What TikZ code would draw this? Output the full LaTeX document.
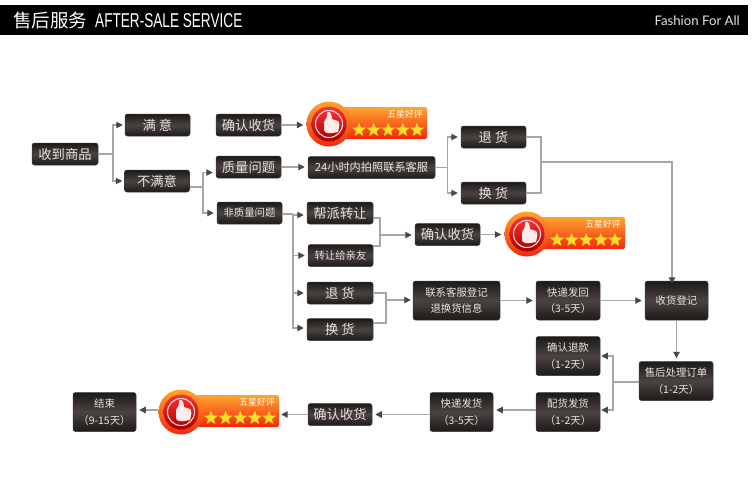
\documentclass[tikz,border=0pt]{standalone}
\usepackage{fontspec}
\setmainfont{Liberation Sans}
\newfontfamily\cjk{Noto Sans CJK SC}
\newfontfamily\narrowlat[FakeStretch=0.68]{Liberation Sans}
\newfontfamily\tagfont{Lato}
\usetikzlibrary{arrows.meta,shapes.geometric,calc}
\definecolor{boxedge}{HTML}{1C1A19}
\definecolor{boxmid}{HTML}{4A4240}
\definecolor{boxtext}{HTML}{E9E4DF}
\definecolor{linegray}{HTML}{A6A6A6}
\definecolor{tipgray}{HTML}{484848}
\definecolor{badgetop}{HTML}{FFA52E}
\definecolor{badgemid}{HTML}{FF7A1E}
\definecolor{badgelow}{HTML}{F2280E}
\definecolor{stargold}{HTML}{FFDC26}
\tikzset{
  flowbox/.style={draw=boxedge!70!gray,line width=.5pt,rounded corners=2.5pt,inner sep=0pt,align=center,
    top color=boxedge,bottom color=boxedge,middle color=boxmid,text=boxtext,
    font=\cjk\fontsize{13.3}{17}\selectfont},
  smalltext/.style={font=\cjk\fontsize{10.4}{16.5}\selectfont},
  wire/.style={draw=linegray,line width=1.1pt},
  link/.style={wire,-{Triangle[length=6.5pt,width=6.5pt,color=tipgray]}},
  staricon/.style={star,star points=5,star point ratio=2.3,minimum size=14.5pt,inner sep=0pt,
    fill=stargold,draw=none}
}
% #1 node name, #2 x, #3 y, #4 width, #5 height, #6 options, #7 text
\newcommand{\flow}[7]{\node[flowbox,#6,minimum width=#4pt,minimum height=#5pt] (#1) at (#2,#3) {#7};}
% #1 name, #2 circle centre x, #3 y
\newcommand{\goodbadge}[3]{%
\begin{scope}[shift={(#2,#3)}]
  \node[rounded corners=2pt,minimum width=88pt,minimum height=32pt,inner sep=0pt,
    top color=badgetop,middle color=badgemid,bottom color=badgelow] (#1r) at (54,-1) {};
  \node[circle,minimum size=45pt,inner sep=0pt,
    top color=badgetop,bottom color=badgelow] (#1) at (0,0) {};
  \node[circle,minimum size=35pt,inner sep=0pt,draw=none,
    top color=red!80!white,bottom color=red!65!black] (#1c) at (0,0) {};
  \node[circle,minimum size=27pt,inner sep=0pt,draw=white!90!red,line width=1pt] (#1i) at (0,0) {};
  \fill[white!92!red] (-5,-2) .. controls (-3,-4) and (-2,-7) .. (-1.5,-12)
     .. controls (0.5,-13.5) and (3,-10) .. (3,-5) -- (9,-3) .. controls (11.5,-1) and (10,3) .. (9,8)
     -- (3,9) -- (-1,9) .. controls (-3,9) and (-5,8) .. (-5,6) -- cycle;
  \node[text=white!95!yellow,inner sep=0pt,font=\cjk\fontsize{8.8}{10}\selectfont] (#1t) at (76,-9.5) {五星好评};
  \node[staricon] (#1s1) at (30,6) {};
  \node[staricon] (#1s2) at (44.6,6) {};
  \node[staricon] (#1s3) at (59.2,6) {};
  \node[staricon] (#1s4) at (73.8,6) {};
  \node[staricon] (#1s5) at (88,6) {};
\end{scope}}
\begin{document}
\begin{tikzpicture}[x=1pt,y=-1pt]
\useasboundingbox (0,0) rectangle (756,485);
\fill[white] (0,0) rectangle (756,485);
\fill[black] (0,5) rectangle (748,35);
\node[anchor=west,text=white,inner sep=0pt,font=\cjk\fontsize{18.5}{20}\selectfont] (hcn) at (13,20.5) {售后服务};
\node[anchor=west,text=white,inner sep=0pt,font=\narrowlat\fontsize{20}{22}\selectfont] (hen) at (95,20.5) {AFTER-SALE SERVICE};
\node[anchor=east,text=white!90!black,inner sep=0pt,font=\tagfont\fontsize{13.2}{15}\selectfont] (htag) at (740,20.5) {Fashion For All};

% boxes
\flow{recv}{65}{154}{66}{22}{}{收到商品}
\flow{ok}{157.5}{125}{65}{22}{}{满 意}
\flow{conf}{248.5}{125}{65}{22}{}{确认收货}
\flow{notok}{157}{181}{65}{22}{}{不满意}
\flow{qual}{248.5}{167}{65}{22}{}{质量问题}
\flow{nonq}{249.5}{213}{65}{22}{smalltext}{非质量问题}
\flow{help}{340}{213}{66}{22}{}{帮派转让}
\flow{give}{340.5}{255.5}{65}{22}{smalltext}{转让给亲友}
\flow{ret}{340}{293}{66}{22}{}{退 货}
\flow{swap}{340}{329.5}{66}{22}{}{换 货}
\flow{photo}{371.5}{167.5}{127}{22}{font=\cjk\fontsize{11.2}{14}\selectfont}{24小时内拍照联系客服}
\flow{ret2}{493.5}{137}{65}{22}{}{退 货}
\flow{swap2}{493.5}{193}{65}{22}{}{换 货}
\flow{conf2}{447.5}{234.5}{65}{22}{}{确认收货}
\flow{cs}{456.5}{300.5}{87}{39}{smalltext}{联系客服登记\\退换货信息}
\flow{back}{568}{300.5}{64}{39}{smalltext}{快递发回\\（3-5天）}
\flow{log}{676.5}{300.5}{63}{39}{smalltext}{收货登记}
\flow{proc}{676}{381}{74}{39}{smalltext}{售后处理订单\\（1-2天）}
\flow{refund}{568}{356}{64}{39}{smalltext}{确认退款\\（1-2天）}
\flow{ship}{568}{412}{64}{39}{smalltext}{配货发货\\（1-2天）}
\flow{exp}{461.5}{412}{63}{39}{smalltext}{快递发货\\（3-5天）}
\flow{conf3}{340}{414.5}{64}{22}{}{确认收货}
\flow{done}{104.5}{412}{63}{39}{smalltext}{结束\\（9-15天）}

% badges
\goodbadge{ba}{329}{124}
\goodbadge{bb}{527}{234}
\goodbadge{bc}{181}{412}

% junction coordinates
\coordinate (j1) at (113,154);
\coordinate (j2) at (203,187);
\coordinate (j3) at (293,214);
\coordinate (j4) at (447.5,167.5);
\coordinate (j5) at (541,162);
\coordinate (j6) at (380,235);
\coordinate (j7) at (386,300);
\coordinate (j8) at (613,382);

% connectors
\draw[wire] (recv.east |- j1) -- (j1);
\draw[link,shorten >=2pt] (j1) |- (ok.west);
\draw[link,shorten >=2pt] (j1) |- (notok.west);
\draw[link,shorten >=3pt] (conf.east) -- (ba.west |- conf.east);
\draw[wire] (notok.east |- j2) -- (j2);
\draw[link,shorten >=3pt] (j2) |- ([yshift=-5.5pt]qual.west);
\draw[link,shorten >=3pt] (j2) |- (nonq.west);
\draw[link,shorten >=3pt] (qual.east) -- (photo.west |- qual.east);
\draw[wire] (photo.east) -- (j4);
\draw[wire] (nonq.east |- j3) -- (j3);
\draw[link,shorten >=3pt] (j3) |- ([yshift=-2pt]help.west);
\draw[link,shorten >=3pt] (j3) |- (give.west);
\draw[link,shorten >=3pt] (j3) |- (ret.west);
\draw[link,shorten >=3pt] (j3) |- ([yshift=1.5pt]swap.west);
\draw[link,shorten >=3pt] (j4) |- (ret2.west);
\draw[link,shorten >=3pt] (j4) |- (swap2.west);
\draw[wire] (ret2.east) -| (j5) |- (swap2.east);
\draw[link] (j5) -| ([xshift=-4.5pt,yshift=-3pt]log.north);
\draw[wire] ([yshift=-5pt]help.east) -| (j6) |- ([yshift=9.5pt]give.east);
\draw[link,shorten >=3pt] (j6) -- (conf2.west |- j6);
\draw[link,shorten >=3pt] (conf2.east) -- (bb.west |- conf2.east);
\draw[wire] (ret.east) -| (j7) |- ([yshift=6.5pt]swap.east);
\draw[link,shorten >=2pt] (j7) -- (cs.west |- j7);
\draw[link,shorten >=3pt] (cs.east) -- (back.west);
\draw[link,shorten >=3pt] (back.east) -- (log.west);
\draw[link,shorten >=3pt] (log.south) -- (proc.north -| log.south);
\draw[wire] (proc.west |- j8) -- (j8);
\draw[link,shorten >=1pt] (j8) |- (refund.east);
\draw[link,shorten >=1pt] (j8) |- ([yshift=2pt]ship.east);
\draw[link,shorten >=3pt] ([yshift=2pt]ship.west) -- ([yshift=2pt]exp.east);
\draw[link,shorten >=3pt] (exp.west |- conf3.east) -- (conf3.east);
\draw[link,shorten >=2pt] (conf3.west) -- (bcr.east |- conf3.west);
\draw[link,shorten >=3pt] ([yshift=2pt]bc.west) -- ([yshift=2pt]done.east);
\end{tikzpicture}
\end{document}
